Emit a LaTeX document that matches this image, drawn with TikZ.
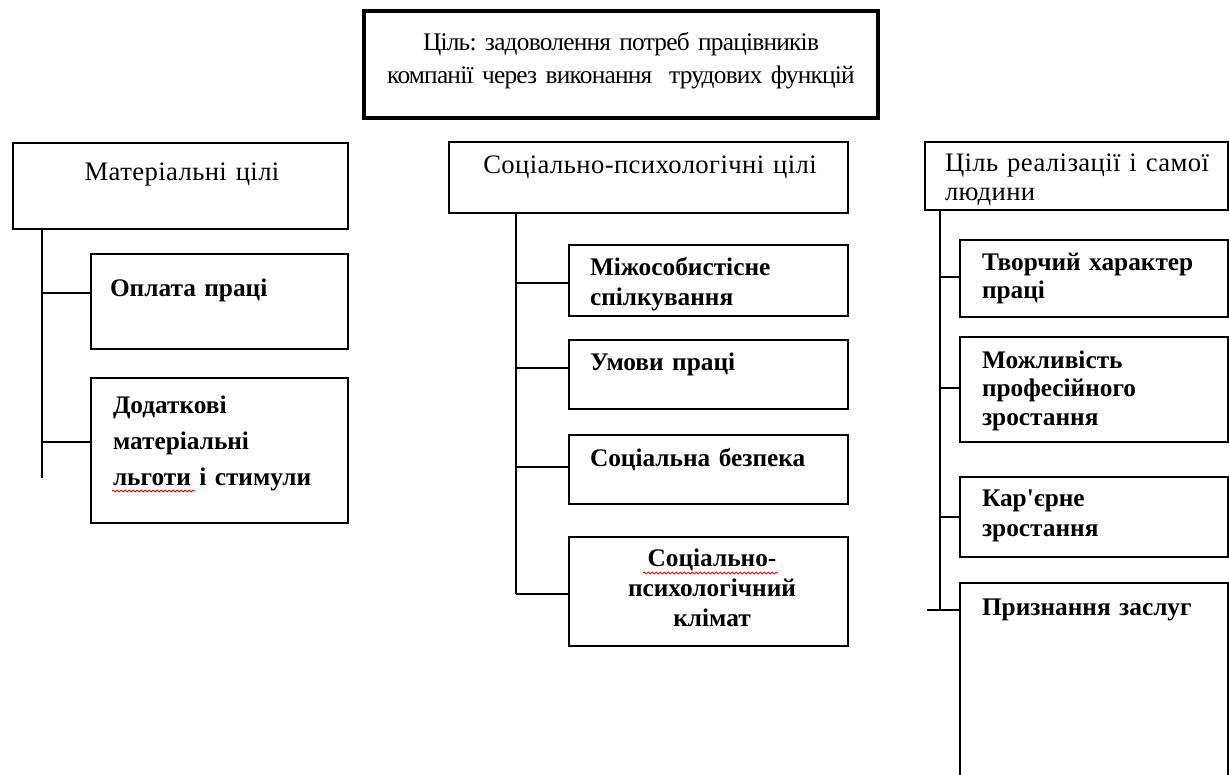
\documentclass[tikz,border=0pt]{standalone}
\usepackage{fontspec}
\setmainfont{Liberation Serif}[Ligatures=TeXOff]
\usetikzlibrary{calc,decorations.pathmorphing}
\frenchspacing
\newcommand\fsz[1]{\fontsize{19pt}{#1}\selectfont}
\newcommand\hsz[1]{\fontsize{20pt}{#1}\selectfont\addfontfeatures{LetterSpace=1.5}}
\newcommand\tightfont{\addfontfeatures{LetterSpace=-3}}
\newcommand\mybox[6][box]{\node[#1, minimum width={(#5-#3)*0.75pt}, minimum height={(#6-#4)*0.75pt}] (#2) at ({(#3+#5)/2},{(#4+#6)/2}) {};}
\begin{document}
\begin{tikzpicture}[x=0.75pt,y=-0.75pt,
  box/.style={draw, line width=2.1pt, inner sep=0pt, outer sep=0pt},
  thickbox/.style={box, line width=2.6pt},
  openbox/.style={inner sep=0pt, outer sep=0pt},
  lbl/.style={inner sep=0pt, outer sep=0pt, text width=240pt, align=left, anchor=base west},
  clbl/.style={inner sep=0pt, outer sep=0pt, text width=300pt, align=center, anchor=base},
  conn/.style={line width=1pt},
  trunk/.style={line width=1.1pt},
  wavy/.style={draw=red, line width=0.6pt, decorate, decoration={snake, amplitude=0.7pt, segment length=3pt}}
]
\useasboundingbox (0,0) rectangle (1229,775);
% top
\mybox[thickbox]{top}{364}{11}{878}{118}
\node[clbl, text width=500pt, font=\fsz{24.75pt}\tightfont] (toptext) at (621,50) {Ціль: задоволення потреб працівників\\компанії через виконання\ \ трудових функцій};
% left column
\mybox{h1}{13}{143}{348}{229}
\node[clbl, font=\hsz{24pt}] (h1t) at (182,180) {Матеріальні цілі};
\mybox{l1}{91}{254}{348}{349}
\node[lbl, font=\fsz{24pt}\bfseries] (l1t) at (110,296) {Оплата праці};
\mybox{l2}{91}{378}{348}{523}
\node[lbl, font=\fsz{27pt}\bfseries] (l2t) at (113,413) {Додаткові\\матеріальні\\льготи і стимули};
% middle column
\mybox{h2}{449}{142}{848}{213}
\node[clbl, font=\hsz{24pt}] (h2t) at (650,173) {Соціально-психологічні цілі};
\mybox{m1}{569}{245}{848}{316}
\node[lbl, font=\fsz{22.5pt}\bfseries] (m1t) at (590,275) {Міжособистісне\\спілкування};
\mybox{m2}{569}{340}{848}{409}
\node[lbl, font=\fsz{22.5pt}\bfseries] (m2t) at (590,370) {Умови праці};
\mybox{m3}{569}{435}{848}{504}
\node[lbl, font=\fsz{22.5pt}\bfseries] (m3t) at (590,466) {Соціальна безпека};
\mybox{m4}{569}{537}{848}{646}
\node[clbl, text width=200pt, font=\fsz{22.5pt}\bfseries] (m4t) at (712,566) {Соціально-\\психологічний\\клімат};
% right column
\mybox{h3}{925}{142}{1228}{210}
\node[lbl, font=\hsz{21.75pt}] (h3t) at (945,171) {Ціль реалізації і самої\\людини};
\mybox{r1}{960}{240}{1228}{317}
\node[lbl, font=\fsz{21pt}\bfseries] (r1t) at (982,270) {Творчий характер\\праці};
\mybox{r2}{960}{337}{1228}{442}
\node[lbl, font=\fsz{21.4pt}\bfseries] (r2t) at (982,368) {Можливість\\професійного\\зростання};
\mybox{r3}{960}{477}{1228}{557}
\node[lbl, font=\fsz{22.5pt}\bfseries] (r3t) at (982,506) {Кар'єрне\\зростання};
\mybox[openbox]{r4}{960}{583}{1228}{777}
\draw[line width=2.1pt] (r4.south west) |- (r4.north east) -- (r4.south east);
\node[lbl, font=\fsz{22.5pt}\bfseries] (r4t) at (982,615) {Признання заслуг};
% connectors left
\coordinate (v1) at (42,478);
\draw[line width=2.2pt] (h1.south -| v1) -- (v1);
\coordinate (l1j) at ($(l1.west)+(0,-8.5)$);
\coordinate (l2j) at ($(l2.west)+(0,-8.5)$);
\draw[conn] (l1j -| v1) -- (l1j);
\draw[conn] (l2j -| v1) -- (l2j);
% connectors middle
\coordinate (v2) at (516,594);
\coordinate (m1j) at ($(m1.west)+(0,2.5)$);
\coordinate (m2j) at ($(m2.west)+(0,-6.5)$);
\coordinate (m3j) at ($(m3.west)+(0,-2.5)$);
\coordinate (m4j) at ($(m4.west)+(0,2.5)$);
\draw[trunk] (h2.south -| v2) -- (v2);
\draw[conn] (m1j -| v2) -- (m1j);
\draw[conn] (m2j -| v2) -- (m2j);
\draw[conn] (m3j -| v2) -- (m3j);
\draw[conn] (m4j -| v2) -- (m4j);
% connectors right
\coordinate (v3) at (940,610);
\coordinate (r1j) at ($(r1.west)+(0,-1.5)$);
\coordinate (r2j) at ($(r2.west)+(0,-1.5)$);
\coordinate (r3j) at (r3.west);
\coordinate (r4j) at ($(r4.north west)+(0,27)$);
\coordinate (r4s) at (927,610);
\draw[trunk] (h3.south -| v3) -- (v3);
\draw[conn] (r1j -| v3) -- (r1j);
\draw[conn] (r2j -| v3) -- (r2j);
\draw[conn] (r3j -| v3) -- (r3j);
\draw[conn] (r4s) -- (r4j);
% spell-check underlines
\draw[wavy] (112,491) -- (195,491);
\draw[wavy] (643,573) -- (778,573);
\end{tikzpicture}
\end{document}
